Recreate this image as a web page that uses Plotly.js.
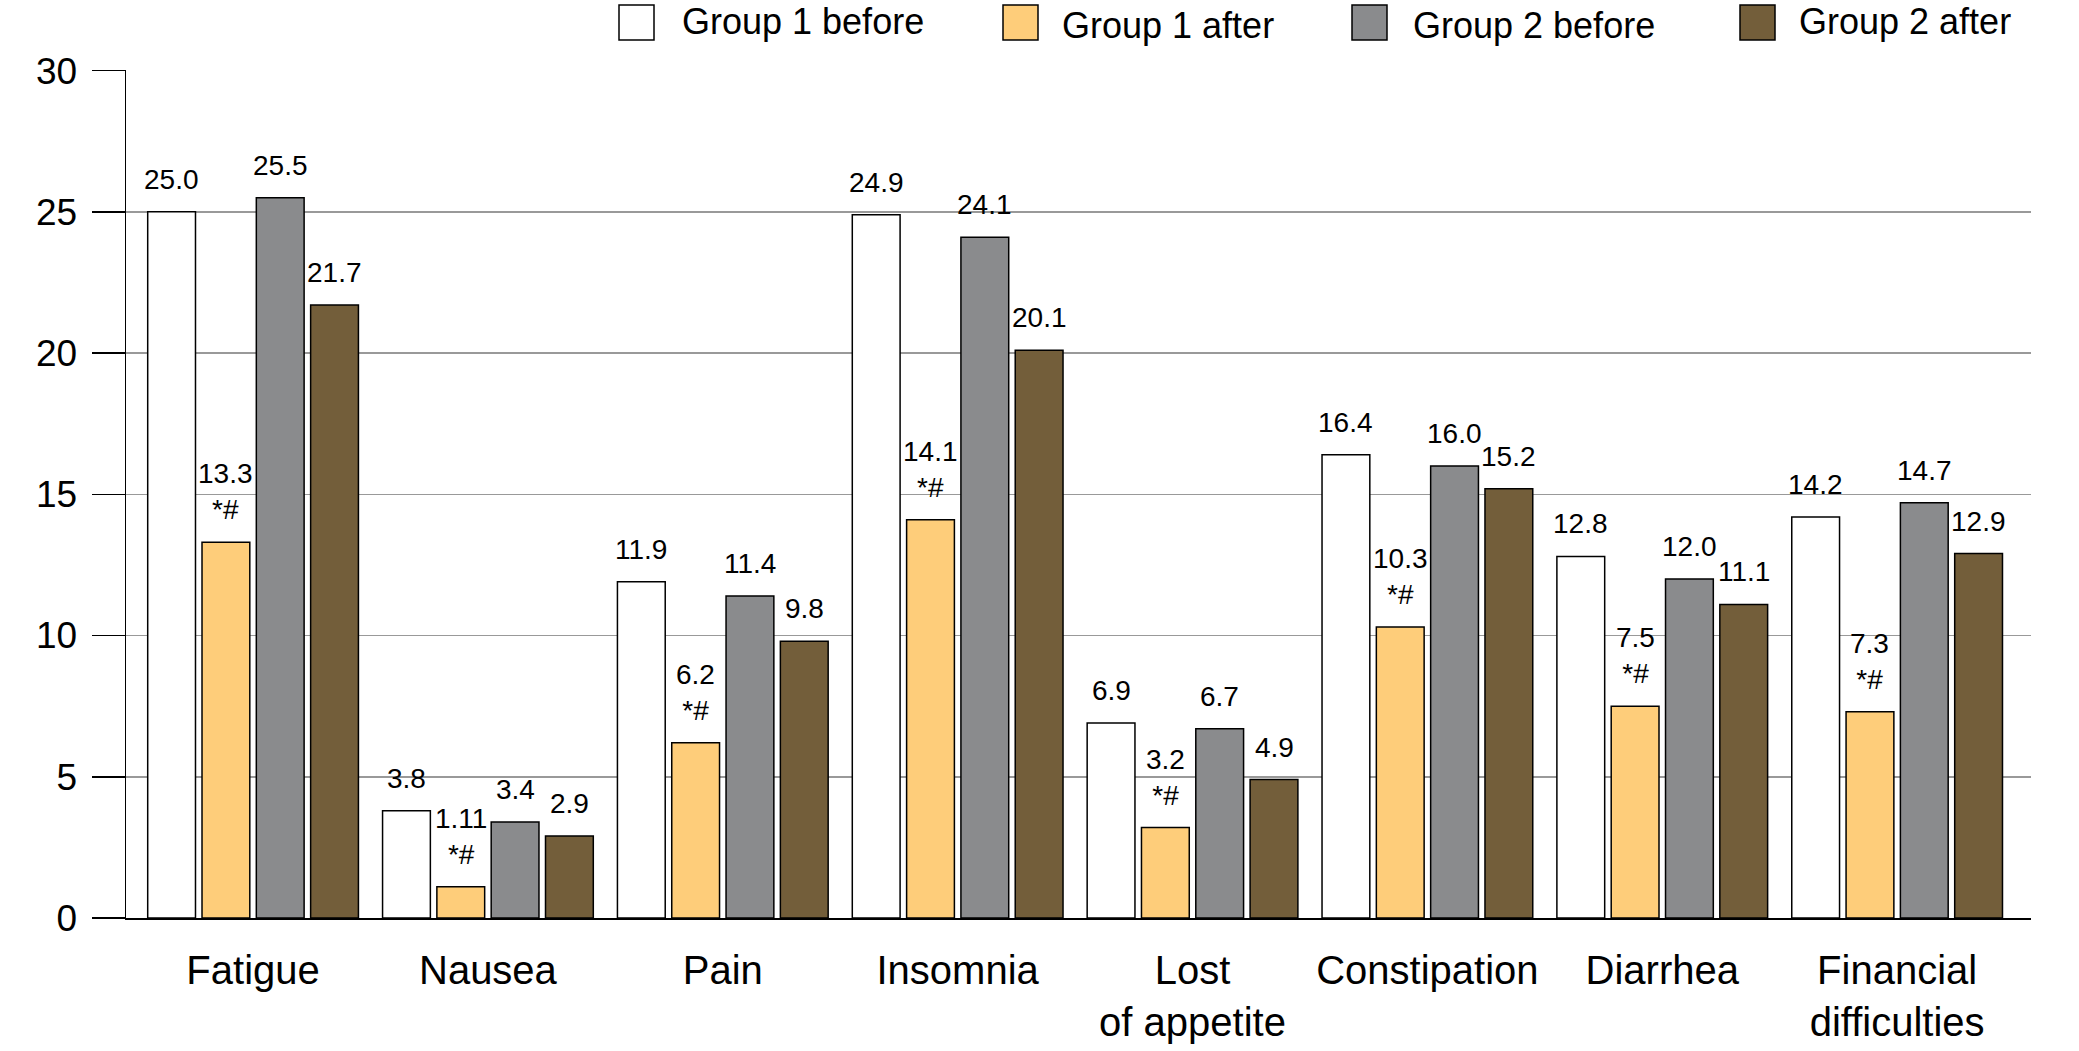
<!DOCTYPE html>
<html>
<head>
<meta charset="utf-8">
<script src="https://cdn.plot.ly/plotly-3.0.1.min.js"></script>
<style>html,body{margin:0;padding:0;background:#fff;}#chart{width:2079px;height:1051px;}</style>
</head>
<body>
<div id="chart"></div>
<script>
// ---- data ----
const categories = ['Fatigue', 'Nausea', 'Pain', 'Insomnia', 'Lost<br>of appetite', 'Constipation', 'Diarrhea', 'Financial<br>difficulties'];
const seriesNames = ['Group 1 before', 'Group 1 after', 'Group 2 before', 'Group 2 after'];
const group1Before = [25.0, 3.8, 11.9, 24.9, 6.9, 16.4, 12.8, 14.2];
const group1After  = [13.3, 1.11, 6.2, 14.1, 3.2, 10.3, 7.5, 7.3];
const group2Before = [25.5, 3.4, 11.4, 24.1, 6.7, 16.0, 12.0, 14.7];
const group2After  = [21.7, 2.9, 9.8, 20.1, 4.9, 15.2, 11.1, 12.9];
const group1AfterMark = ['*#', '*#', '*#', '*#', '*#', '*#', '*#', '*#'];
const yTicks = [0, 5, 10, 15, 20, 25, 30];

// ---- styling ----
const colors = ['#ffffff', '#fecd7a', '#8a8b8d', '#735e3a'];
const FONT = 'Liberation Sans, Arial, sans-serif';
const W = 2079, H = 1051;
const M = {l: 126, r: 48, t: 70, b: 133};
const bargap = 0.075, bargroupgap = 0.12;

const allSeries = [group1Before, group1After, group2Before, group2After];
const fmt = v => (Math.round(v * 10) / 10 === v ? v.toFixed(1) : String(v));

const traces = allSeries.map((vals, j) => ({
  type: 'bar',
  name: seriesNames[j],
  x: categories,
  y: vals,
  marker: {color: colors[j], line: {color: '#000000', width: 1.5}},
  showlegend: false,
  hoverinfo: 'x+y+name'
}));

// value labels above bars
const slot = (1 - bargap) / allSeries.length;
const annotations = [];
allSeries.forEach((vals, j) => {
  vals.forEach((v, i) => {
    let txt = fmt(v);
    if (j === 1) txt += '<br>' + group1AfterMark[i];
    annotations.push({
      xref: 'x', yref: 'y',
      x: i + (j - (allSeries.length - 1) / 2) * slot,
      y: v,
      text: txt,
      showarrow: false,
      xanchor: 'center', yanchor: 'bottom',
      yshift: 15,
      font: {family: FONT, size: 28, color: '#000000'}
    });
  });
});

// custom legend (pixel positions converted to paper coordinates)
const pw = W - M.l - M.r, ph = H - M.t - M.b;
const px = x => (x - M.l) / pw;
const py = y => (H - M.b - y) / ph;
const legendBoxX = [619, 1003, 1352, 1740];
const legendTextX = [680, 1060, 1411, 1797];
const legendTextY = [21, 25, 25, 21];
const shapes = [];
seriesNames.forEach((nm, j) => {
  shapes.push({
    type: 'rect', xref: 'paper', yref: 'paper',
    x0: px(legendBoxX[j]), x1: px(legendBoxX[j] + 35),
    y0: py(40), y1: py(5),
    fillcolor: colors[j], line: {color: '#000000', width: 1.5}
  });
  annotations.push({
    xref: 'paper', yref: 'paper',
    x: px(legendTextX[j]), y: py(legendTextY[j]),
    text: nm, showarrow: false,
    xanchor: 'left', yanchor: 'middle',
    font: {family: FONT, size: 36, color: '#000000'}
  });
});

const layout = {
  width: W, height: H,
  margin: M,
  paper_bgcolor: '#ffffff', plot_bgcolor: '#ffffff',
  barmode: 'group',
  bargap: bargap, bargroupgap: bargroupgap,
  font: {family: FONT, color: '#000000'},
  xaxis: {
    type: 'category',
    range: [-0.541, 7.57],
    showline: true, linecolor: '#000000', linewidth: 1.5,
    ticks: '', showgrid: false, zeroline: false,
    tickfont: {family: FONT, size: 40, color: '#000000', lineheight: 1.2},
    ticklabelstandoff: 16,
    fixedrange: true
  },
  yaxis: {
    range: [0, 30.02],
    tickvals: yTicks,
    ticktext: yTicks.map(String),
    showline: true, linecolor: '#000000', linewidth: 1.5,
    ticks: 'outside', ticklen: 33, tickwidth: 1.5, tickcolor: '#000000',
    ticklabelstandoff: 7,
    showgrid: true, gridcolor: '#999999', gridwidth: 1.5,
    zeroline: false,
    tickfont: {family: FONT, size: 37, color: '#000000'},
    fixedrange: true
  },
  annotations: annotations,
  shapes: shapes
};

Plotly.newPlot('chart', traces, layout, {displayModeBar: false, staticPlot: true});
</script>
</body>
</html>
